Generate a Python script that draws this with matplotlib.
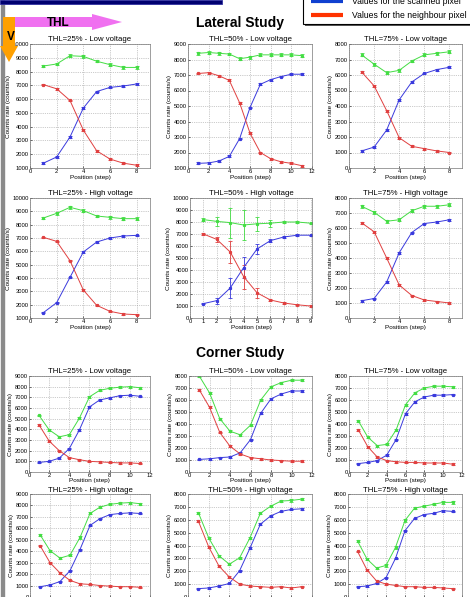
import matplotlib
matplotlib.use("Agg")
import matplotlib.pyplot as plt
from matplotlib.patches import Rectangle, FancyArrow

plt.rcParams['font.family'] = ['Liberation Sans', 'DejaVu Sans']

W, H = 470, 597

# ---- lateral study data (positions 1..8, 1..11, 1..9) ----
lat_x8 = [1, 2, 3, 4, 5, 6, 7, 8]
lat_x11 = [1, 2, 3, 4, 5, 6, 7, 8, 9, 10, 11]
lat_x9 = [1, 2, 3, 4, 5, 6, 7, 8, 9]

l25lo_green = [8400, 8550, 9150, 9100, 8750, 8500, 8300, 8300]
l25lo_blue = [1350, 1800, 3250, 5350, 6550, 6850, 6950, 7100]
l25lo_red = [7050, 6750, 5900, 3750, 2250, 1650, 1350, 1200]

l50lo_green = [8400, 8450, 8400, 8350, 8050, 8150, 8300, 8300, 8300, 8300, 8250]
l50lo_blue = [1300, 1330, 1450, 1750, 2900, 4900, 6400, 6700, 6900, 7050, 7050]
l50lo_red = [7100, 7150, 6950, 6650, 5200, 3250, 2000, 1600, 1400, 1300, 1150]

l75lo_green = [7300, 6700, 6150, 6300, 6900, 7300, 7400, 7500]
l75lo_blue = [1100, 1350, 2450, 4400, 5550, 6100, 6350, 6500]
l75lo_red = [6200, 5300, 3700, 1950, 1400, 1250, 1100, 1000]

l25hi_green = [8500, 8850, 9300, 9050, 8650, 8550, 8450, 8450]
l25hi_blue = [1400, 2150, 4050, 5950, 6700, 7000, 7150, 7200]
l25hi_red = [7050, 6750, 5300, 3100, 1950, 1500, 1300, 1250]

l50hi_green = [8200, 8050, 7950, 7750, 7850, 7900, 8000, 8000, 7900]
l50hi_green_err = [100, 400, 1250, 1250, 600, 300, 100, 100, 50]
l50hi_blue = [1200, 1450, 2500, 4200, 5750, 6450, 6750, 6900, 6900]
l50hi_blue_err = [50, 250, 850, 900, 450, 150, 100, 80, 50]
l50hi_red = [7000, 6550, 5500, 3450, 2100, 1500, 1250, 1100, 1000]
l50hi_red_err = [100, 200, 950, 1000, 400, 100, 50, 50, 50]

l75hi_green = [7450, 7050, 6450, 6550, 7150, 7450, 7450, 7550]
l75hi_blue = [1150, 1300, 2400, 4350, 5700, 6300, 6400, 6550]
l75hi_red = [6350, 5750, 4000, 2200, 1500, 1200, 1100, 1000]

# ---- corner study data (positions 1..11) ----
cor_x = [1, 2, 3, 4, 5, 6, 7, 8, 9, 10, 11]

c25lo_green = [5300, 3950, 3300, 3500, 5050, 7050, 7650, 7850, 7950, 8000, 7900]
c25lo_blue = [900, 1000, 1300, 2200, 3950, 6100, 6750, 6950, 7150, 7200, 7100]
c25lo_red = [4400, 2900, 2000, 1350, 1150, 1000, 950, 900, 850, 850, 800]

c50lo_green = [8000, 6600, 4450, 3400, 3100, 3900, 6000, 7100, 7450, 7650, 7650]
c50lo_blue = [1050, 1100, 1200, 1250, 1600, 2700, 4900, 6100, 6500, 6750, 6750]
c50lo_red = [6850, 5400, 3300, 2150, 1500, 1200, 1100, 1000, 950, 900, 900]

c75lo_green = [4250, 2900, 2200, 2300, 3500, 5600, 6600, 7000, 7150, 7150, 7100]
c75lo_blue = [700, 800, 950, 1400, 2700, 4850, 5850, 6250, 6400, 6400, 6450]
c75lo_red = [3500, 2100, 1250, 950, 850, 800, 800, 750, 750, 750, 650]

c25hi_green = [5450, 4050, 3400, 3650, 5200, 7300, 7850, 8100, 8200, 8250, 8150]
c25hi_blue = [900, 1050, 1350, 2300, 4150, 6250, 6850, 7200, 7300, 7350, 7300]
c25hi_red = [4500, 3000, 2100, 1450, 1150, 1100, 1000, 950, 900, 900, 850]

c50hi_green = [6550, 4600, 3200, 2550, 3050, 4600, 6500, 7050, 7450, 7500, 7600]
c50hi_blue = [650, 700, 850, 1050, 2050, 3800, 5650, 6300, 6650, 6800, 6850]
c50hi_red = [5900, 3900, 2400, 1550, 1000, 850, 800, 750, 800, 700, 800]

c75hi_green = [4350, 2950, 2250, 2450, 3850, 5950, 6900, 7050, 7200, 7350, 7350]
c75hi_blue = [800, 850, 1050, 1500, 3000, 5150, 6100, 6400, 6500, 6700, 6650]
c75hi_red = [3550, 2100, 1250, 1000, 900, 800, 800, 750, 750, 700, 650]

GREEN = '#44dd44'
BLUE = '#3a3add'
RED = '#e04040'

fig = plt.figure(figsize=(W / 100, H / 100), dpi=100)
fig.patch.set_facecolor('white')


def px_axes(x0, y0, x1, y1):
    return fig.add_axes([x0 / W, 1 - y1 / H, (x1 - x0) / W, (y1 - y0) / H])


def panel(box, title, x, g, b, r, xlim, ylim, xticks, errs=None,
          xlabel=True, tpad=2.5, xpad=0.5):
    ax = px_axes(*box)
    if errs is None:
        errs = ([90] * len(x), [60] * len(x), [60] * len(x))
    for vals, e, c in ((g, errs[0], GREEN), (b, errs[1], BLUE), (r, errs[2], RED)):
        ax.errorbar(x, vals, yerr=e, color=c, lw=0.7, marker='s', ms=1.3,
                    elinewidth=0.6, capsize=1.2, capthick=0.6)
    ax.set_xlim(*xlim)
    ax.set_ylim(*ylim)
    ax.set_xticks(xticks)
    ax.set_yticks(range(int(ylim[0]), int(ylim[1]) + 1, 1000))
    ax.grid(True, ls=':', lw=0.5, color='#999999')
    ax.tick_params(labelsize=4.2, direction='in', length=1.5, width=0.4, pad=1)
    ax.tick_params(axis='x', pad=0.6)
    for s in ax.spines.values():
        s.set_linewidth(0.5)
        s.set_color('#777777')
    ax.set_title(title, fontsize=5.6, pad=tpad)
    ax.set_ylabel('Counts rate (counts/s)', fontsize=4.6, labelpad=1)
    if xlabel:
        ax.set_xlabel('Position (step)', fontsize=4.6, labelpad=xpad)
    return ax


ev2 = [0, 2, 4, 6, 8]
ev12 = [0, 2, 4, 6, 8, 10, 12]

# lateral study, row 1
panel((30, 44, 150, 168), 'THL=25% - Low voltage', lat_x8,
      l25lo_green, l25lo_blue, l25lo_red, (0, 9), (1000, 10000), ev2)
panel((188, 44, 312, 168), 'THL=50% - Low voltage', lat_x11,
      l50lo_green, l50lo_blue, l50lo_red, (0, 12), (1000, 9000), ev12)
panel((349, 44, 462, 168), 'THL=75% - Low voltage', lat_x8,
      l75lo_green, l75lo_blue, l75lo_red, (0, 9), (0, 8000), ev2)

# lateral study, row 2
panel((30, 198, 150, 318), 'THL=25% - High voltage', lat_x8,
      l25hi_green, l25hi_blue, l25hi_red, (0, 9), (1000, 10000), ev2)
panel((190, 198, 312, 318), 'THL=50% - High voltage', lat_x9,
      l50hi_green, l50hi_blue, l50hi_red, (0, 9.1), (0, 10000),
      [0, 1, 2, 3, 4, 5, 6, 7, 8, 9],
      errs=(l50hi_green_err, l50hi_blue_err, l50hi_red_err))
panel((349, 198, 462, 318), 'THL=75% - High voltage', lat_x8,
      l75hi_green, l75hi_blue, l75hi_red, (0, 9), (0, 8000), ev2)

# corner study, row 1
panel((29, 376, 150, 472), 'THL=25% - Low voltage', cor_x,
      c25lo_green, c25lo_blue, c25lo_red, (0, 12), (0, 9000), ev12, xpad=0)
panel((189, 376, 312, 472), 'THL=50% - Low voltage', cor_x,
      c50lo_green, c50lo_blue, c50lo_red, (0, 12), (0, 8000), ev12, xpad=0)
panel((349, 376, 462, 472), 'THL=75% - Low voltage', cor_x,
      c75lo_green, c75lo_blue, c75lo_red, (0, 12), (0, 8000), ev12, xpad=0)

# corner study, row 2 (cut by the bottom edge)
panel((30, 494, 150, 597), 'THL=25% - High voltage', cor_x,
      c25hi_green, c25hi_blue, c25hi_red, (0, 12), (0, 9000), ev12,
      xlabel=False, tpad=1)
panel((188, 494, 312, 597), 'THL=50% - High voltage', cor_x,
      c50hi_green, c50hi_blue, c50hi_red, (0, 12), (0, 8000), ev12,
      xlabel=False, tpad=1)
panel((348, 494, 462, 597), 'THL=75% - High voltage', cor_x,
      c75hi_green, c75hi_blue, c75hi_red, (0, 12), (0, 8000), ev12,
      xlabel=False, tpad=1)

# ---- decorations in pixel coordinates ----
over = fig.add_axes([0, 0, 1, 1], zorder=10)
over.set_xlim(0, W)
over.set_ylim(H, 0)
over.axis('off')
over.patch.set_alpha(0)

# left poster border and dark banner
over.add_patch(Rectangle((0.5, 0), 3, H, color='#8a8a8a'))
over.add_patch(Rectangle((0, 0), 222, 4, facecolor='#000070', edgecolor='#3030a0', lw=0.6))

# legend box
over.add_patch(Rectangle((305, -5), 170, 31, facecolor='#555555', edgecolor='none'))
over.add_patch(Rectangle((303, -7), 170, 31, facecolor='white', edgecolor='black', lw=0.8))
over.plot([311, 343], [1, 1], color='#1040d0', lw=3, solid_capstyle='butt')
over.plot([311, 343], [15, 15], color='#ff3300', lw=3, solid_capstyle='butt')
over.text(352, 1, 'Values for the scanned pixel', fontsize=6.2, va='center')
over.text(352, 15, 'Values for the neighbour pixel', fontsize=6.2, va='center')

# THL / V arrows
over.add_patch(FancyArrow(6, 22, 116, 0, width=10, head_width=16, head_length=30,
                          length_includes_head=True, color='#f070f0', lw=0))
over.text(58, 23, 'THL', fontsize=8.5, fontweight='bold', ha='center', va='center')
over.add_patch(FancyArrow(9, 17, 0, 45, width=12, head_width=18, head_length=16,
                          length_includes_head=True, color='#ffa000', lw=0))
over.text(11, 37, 'V', fontsize=8.5, fontweight='bold', ha='center', va='center')

# section titles
over.text(240, 23, 'Lateral Study', fontsize=10, fontweight='bold', ha='center', va='center')
over.text(240, 353, 'Corner Study', fontsize=10, fontweight='bold', ha='center', va='center')

fig.savefig('out.png', dpi=100)
